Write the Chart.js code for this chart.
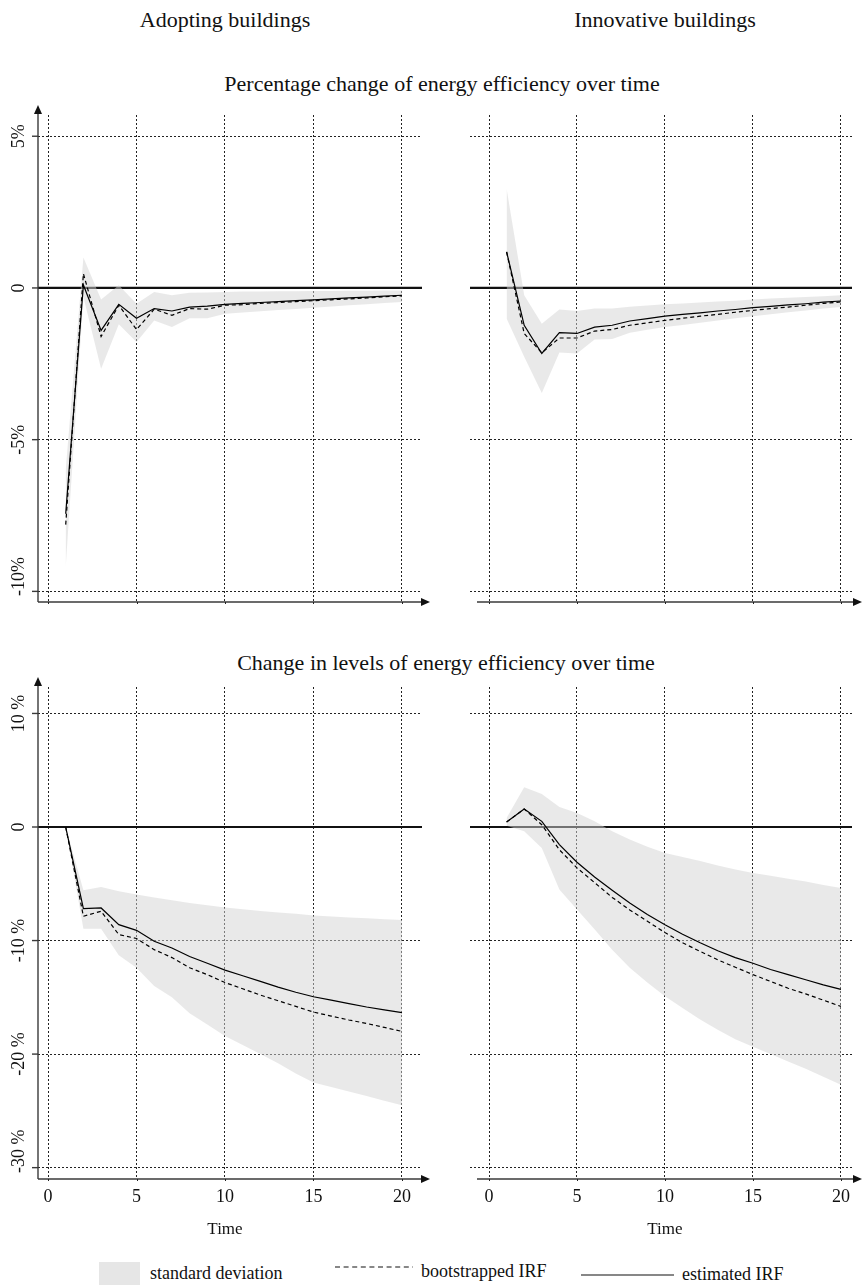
<!DOCTYPE html>
<html>
<head>
<meta charset="utf-8">
<script src="https://cdn.jsdelivr.net/npm/chart.js@4.4.1/dist/chart.umd.min.js"></script>
<style>
  body{margin:0;background:#fff;width:863px;height:1286px;position:relative;overflow:hidden;font-family:"Liberation Serif","Times New Roman",serif;color:#111}
  canvas{position:absolute}
  .t{position:absolute;white-space:nowrap;line-height:22px;transform:translateX(-50%)}
  .h{font-size:22px}
  .lg{position:absolute;font-size:18px;line-height:18px;white-space:nowrap}
</style>
</head>
<body>
<div class="t h" style="left:225px;top:9px">Adopting buildings</div>
<div class="t h" style="left:665px;top:9px">Innovative buildings</div>
<div class="t h" style="left:442px;top:73px">Percentage change of energy efficiency over time</div>
<div class="t h" style="left:446px;top:652px">Change in levels of energy efficiency over time</div>

<canvas id="tl" width="440" height="530" style="left:0;top:95px"></canvas>
<canvas id="tr" width="423" height="530" style="left:440px;top:95px"></canvas>
<canvas id="bl" width="440" height="590" style="left:0;top:665px"></canvas>
<canvas id="br" width="423" height="590" style="left:440px;top:665px"></canvas>

<div style="position:absolute;left:99px;top:1262px;width:41px;height:23px;background:#e6e6e6"></div>
<div class="lg" style="left:150px;top:1264px">standard deviation</div>
<svg style="position:absolute;left:335px;top:1262px" width="80" height="10"><line x1="0" y1="5" x2="78" y2="5" stroke="#111" stroke-width="1.2" stroke-dasharray="5,3.6"/></svg>
<div class="lg" style="left:421px;top:1262px">bootstrapped IRF</div>
<svg style="position:absolute;left:581px;top:1270px" width="95" height="10"><line x1="0" y1="5" x2="93" y2="5" stroke="#111" stroke-width="1.2"/></svg>
<div class="lg" style="left:682px;top:1265px">estimated IRF</div>

<script>
// horizon (time steps of the impulse response)
const times = [1,2,3,4,5,6,7,8,9,10,11,12,13,14,15,16,17,18,19,20];
const xTicks = [0,5,10,15,20];
const pctTicks = [5,0,-5,-10];
const pctLabels = ['5%','0','-5%','-10%'];
const lvlTicks = [10,0,-10,-20,-30];
const lvlLabels = ['10 %','0','-10 %','-20 %','-30 %'];

// percentage change, adopting buildings
const adoptPctEst  = [-7.44,0.1,-1.4,-0.54,-1.0,-0.68,-0.76,-0.63,-0.6,-0.54,-0.51,-0.48,-0.45,-0.42,-0.39,-0.36,-0.33,-0.30,-0.27,-0.24];
const adoptPctBoot = [-7.8,0.47,-1.6,-0.57,-1.37,-0.7,-0.9,-0.68,-0.7,-0.57,-0.55,-0.51,-0.48,-0.45,-0.42,-0.39,-0.36,-0.33,-0.29,-0.26];
const adoptPctHi   = [-6.0,1.0,-0.38,0.09,-0.52,-0.13,-0.24,-0.16,-0.15,-0.13,-0.12,-0.12,-0.11,-0.11,-0.10,-0.10,-0.09,-0.09,-0.08,-0.08];
const adoptPctLo   = [-9.2,-0.3,-2.66,-1.2,-1.78,-1.07,-1.29,-1.0,-1.0,-0.85,-0.81,-0.77,-0.73,-0.69,-0.65,-0.61,-0.57,-0.54,-0.50,-0.46];

// percentage change, innovative buildings
const innovPctEst  = [1.19,-1.23,-2.16,-1.47,-1.5,-1.29,-1.23,-1.09,-1.01,-0.93,-0.87,-0.82,-0.76,-0.71,-0.65,-0.61,-0.56,-0.52,-0.47,-0.43];
const innovPctBoot = [1.19,-1.5,-2.14,-1.65,-1.65,-1.42,-1.37,-1.23,-1.15,-1.07,-1.0,-0.93,-0.87,-0.80,-0.74,-0.68,-0.63,-0.57,-0.51,-0.46];
const innovPctHi   = [3.27,-0.24,-1.18,-0.71,-0.76,-0.68,-0.68,-0.62,-0.58,-0.54,-0.51,-0.48,-0.45,-0.42,-0.38,-0.35,-0.32,-0.30,-0.27,-0.24];
const innovPctLo   = [-1.01,-2.27,-3.46,-2.13,-2.16,-1.7,-1.68,-1.48,-1.38,-1.29,-1.22,-1.15,-1.07,-1.0,-0.93,-0.87,-0.80,-0.74,-0.68,-0.63];

// change in levels, adopting buildings
const adoptLvlEst  = [0,-7.18,-7.13,-8.6,-9.1,-10.06,-10.65,-11.4,-12.0,-12.6,-13.1,-13.6,-14.1,-14.55,-14.95,-15.25,-15.55,-15.85,-16.1,-16.35];
const adoptLvlBoot = [0,-7.86,-7.42,-9.47,-9.82,-10.8,-11.5,-12.4,-13.0,-13.7,-14.25,-14.8,-15.3,-15.8,-16.3,-16.65,-17.0,-17.3,-17.65,-18.0];
const adoptLvlHi   = [0,-5.57,-5.28,-5.66,-5.95,-6.2,-6.45,-6.7,-6.9,-7.1,-7.25,-7.4,-7.52,-7.65,-7.8,-7.88,-7.96,-8.04,-8.12,-8.2];
const adoptLvlLo   = [0,-8.97,-8.97,-11.3,-12.4,-14.0,-15.0,-16.4,-17.4,-18.4,-19.2,-20.0,-20.8,-21.7,-22.5,-22.9,-23.3,-23.7,-24.1,-24.5];

// change in levels, innovative buildings
const innovLvlEst  = [0.44,1.58,0.5,-1.55,-3.1,-4.4,-5.57,-6.7,-7.7,-8.6,-9.44,-10.2,-10.9,-11.5,-12.0,-12.55,-13.0,-13.45,-13.9,-14.3];
const innovLvlBoot = [0.44,1.58,0.2,-2.0,-3.6,-4.9,-6.2,-7.3,-8.3,-9.3,-10.2,-10.95,-11.7,-12.35,-13.0,-13.6,-14.2,-14.7,-15.25,-15.8];
const innovLvlHi   = [0.8,3.5,2.9,1.76,1.23,0.5,-0.38,-1.1,-1.75,-2.3,-2.65,-3.0,-3.4,-3.75,-4.05,-4.3,-4.55,-4.8,-5.1,-5.37];
const innovLvlLo   = [0.1,-0.38,-1.85,-5.5,-7.27,-9.0,-10.8,-12.4,-13.7,-14.9,-15.95,-16.95,-17.85,-18.7,-19.35,-20.0,-20.65,-21.3,-22.0,-22.7];

const FONT = '"Liberation Serif", "Times New Roman", serif';
const pts = arr => times.map((t, i) => ({x: t, y: arr[i]}));

function arrow(ctx, x, y, dir){
  ctx.beginPath();
  if(dir === 'right'){ ctx.moveTo(x, y); ctx.lineTo(x-9, y-4); ctx.lineTo(x-9, y+4); }
  else { ctx.moveTo(x, y); ctx.lineTo(x-4, y+9); ctx.lineTo(x+4, y+9); }
  ctx.closePath(); ctx.fill();
}

const irfAxes = {
  id: 'irfAxes',
  beforeDatasetsDraw(chart){
    const {ctx, chartArea: a, scales: {y}} = chart;
    const y0 = y.getPixelForValue(0);
    ctx.save();
    ctx.strokeStyle = '#111'; ctx.lineWidth = 2.2;
    ctx.beginPath(); ctx.moveTo(a.left, y0); ctx.lineTo(a.right, y0); ctx.stroke();
    ctx.restore();
  },
  afterDraw(chart, args, o){
    const {ctx, chartArea: a, scales: {x, y}} = chart;
    ctx.save();
    ctx.strokeStyle = '#3a3a3a'; ctx.fillStyle = '#111'; ctx.lineWidth = 1.4;
    // x axis with arrow
    const xs = o.left ? a.left : a.left + 7;
    ctx.beginPath(); ctx.moveTo(xs, a.bottom); ctx.lineTo(a.right + 2, a.bottom); ctx.stroke();
    arrow(ctx, a.right + (o.left ? 8 : 10), a.bottom, 'right');
    // little dotted stubs of the grid below the axis
    ctx.save(); ctx.setLineDash([2,2]); ctx.lineWidth = 1; ctx.strokeStyle = '#222';
    xTicks.forEach(v => { const px = Math.round(x.getPixelForValue(v)) + 0.5; ctx.beginPath(); ctx.moveTo(px, a.bottom); ctx.lineTo(px, a.bottom + 4); ctx.stroke(); });
    ctx.restore();
    if(o.left){
      ctx.beginPath(); ctx.moveTo(a.left, a.bottom); ctx.lineTo(a.left, a.top - 2); ctx.stroke();
      arrow(ctx, a.left, a.top - 10, 'up');
      ctx.font = '18px ' + FONT;
      ctx.textAlign = 'center'; ctx.textBaseline = 'middle';
      o.yTicks.forEach((v, i) => {
        const py = y.getPixelForValue(v);
        ctx.beginPath(); ctx.moveTo(a.left - 6, py); ctx.lineTo(a.left, py); ctx.stroke();
        const w = ctx.measureText(o.yLabels[i]).width;
        const cy = Math.min(py, a.bottom - 6 - w / 2);
        ctx.save(); ctx.translate(19, cy); ctx.rotate(-Math.PI / 2);
        ctx.fillText(o.yLabels[i], 0, 0); ctx.restore();
      });
    }
    if(o.xLabels){
      ctx.font = '18px ' + FONT;
      ctx.textAlign = 'center'; ctx.textBaseline = 'middle';
      xTicks.forEach(v => ctx.fillText(String(v), x.getPixelForValue(v), a.bottom + 18));
      ctx.font = '17px ' + FONT;
      ctx.fillText('Time', x.getPixelForValue(10), a.bottom + 51);
    }
    ctx.restore();
  }
};

function makeChart(id, est, boot, hi, lo, cfg){
  const band = 'rgba(212,212,212,0.5)';
  new Chart(document.getElementById(id), {
    type: 'line',
    data: { datasets: [
      {label: 'estimated IRF', data: pts(est), borderColor: '#000', borderWidth: 1.2, pointRadius: 0, fill: false},
      {label: 'bootstrapped IRF', data: pts(boot), borderColor: '#000', borderWidth: 1.2, borderDash: [4,3], pointRadius: 0, fill: false},
      {label: 'standard deviation', data: pts(hi), borderColor: 'transparent', borderWidth: 0, backgroundColor: band, pointRadius: 0, fill: '+1'},
      {label: 'sd lower', data: pts(lo), borderColor: 'transparent', borderWidth: 0, pointRadius: 0, fill: false}
    ]},
    options: {
      responsive: false, animation: false,
      layout: {padding: cfg.pad},
      plugins: {legend: {display: false}, tooltip: {enabled: false}, irfAxes: cfg.axes},
      scales: {
        x: {type: 'linear', min: cfg.xMin, max: cfg.xMax,
            ticks: {display: false}, afterBuildTicks: s => { s.ticks = xTicks.map(v => ({value: v})); },
            afterFit: s => { s.height = 0; },
            grid: {color: '#222', lineWidth: 1, drawTicks: false}, border: {display: false, dash: [2,2]}},
        y: {min: cfg.yMin, max: cfg.yMax,
            ticks: {display: false}, afterBuildTicks: s => { s.ticks = cfg.yTicks.map(v => ({value: v})); },
            afterFit: s => { s.width = 0; },
            grid: {color: '#222', lineWidth: 1, drawTicks: false}, border: {display: false, dash: [2,2]}}
      }
    },
    plugins: [irfAxes]
  });
}

// left panels: t=0 at 48px, 17.7px per step; right panels: t=0 at 49px of their canvas, 17.6px per step
const leftX = {xMin: -0.565, xMax: 21.13};
const rightX = {xMin: -1.08, xMax: 20.63};
const pctY = {yMin: -10.35, yMax: 5.70, yTicks: pctTicks};
const lvlY = {yMin: -31.0, yMax: 12.33, yTicks: lvlTicks};

makeChart('tl', adoptPctEst, adoptPctBoot, adoptPctHi, adoptPctLo,
  Object.assign({pad: {left: 38, right: 18, top: 20, bottom: 23}, axes: {left: true, yTicks: pctTicks, yLabels: pctLabels}}, leftX, pctY));
makeChart('tr', innovPctEst, innovPctBoot, innovPctHi, innovPctLo,
  Object.assign({pad: {left: 30, right: 11, top: 20, bottom: 23}, axes: {left: false}}, rightX, pctY));
makeChart('bl', adoptLvlEst, adoptLvlBoot, adoptLvlHi, adoptLvlLo,
  Object.assign({pad: {left: 38, right: 18, top: 22, bottom: 76}, axes: {left: true, yTicks: lvlTicks, yLabels: lvlLabels, xLabels: true}}, leftX, lvlY));
makeChart('br', innovLvlEst, innovLvlBoot, innovLvlHi, innovLvlLo,
  Object.assign({pad: {left: 30, right: 11, top: 22, bottom: 76}, axes: {left: false, xLabels: true}}, rightX, lvlY));
</script>
</body>
</html>
